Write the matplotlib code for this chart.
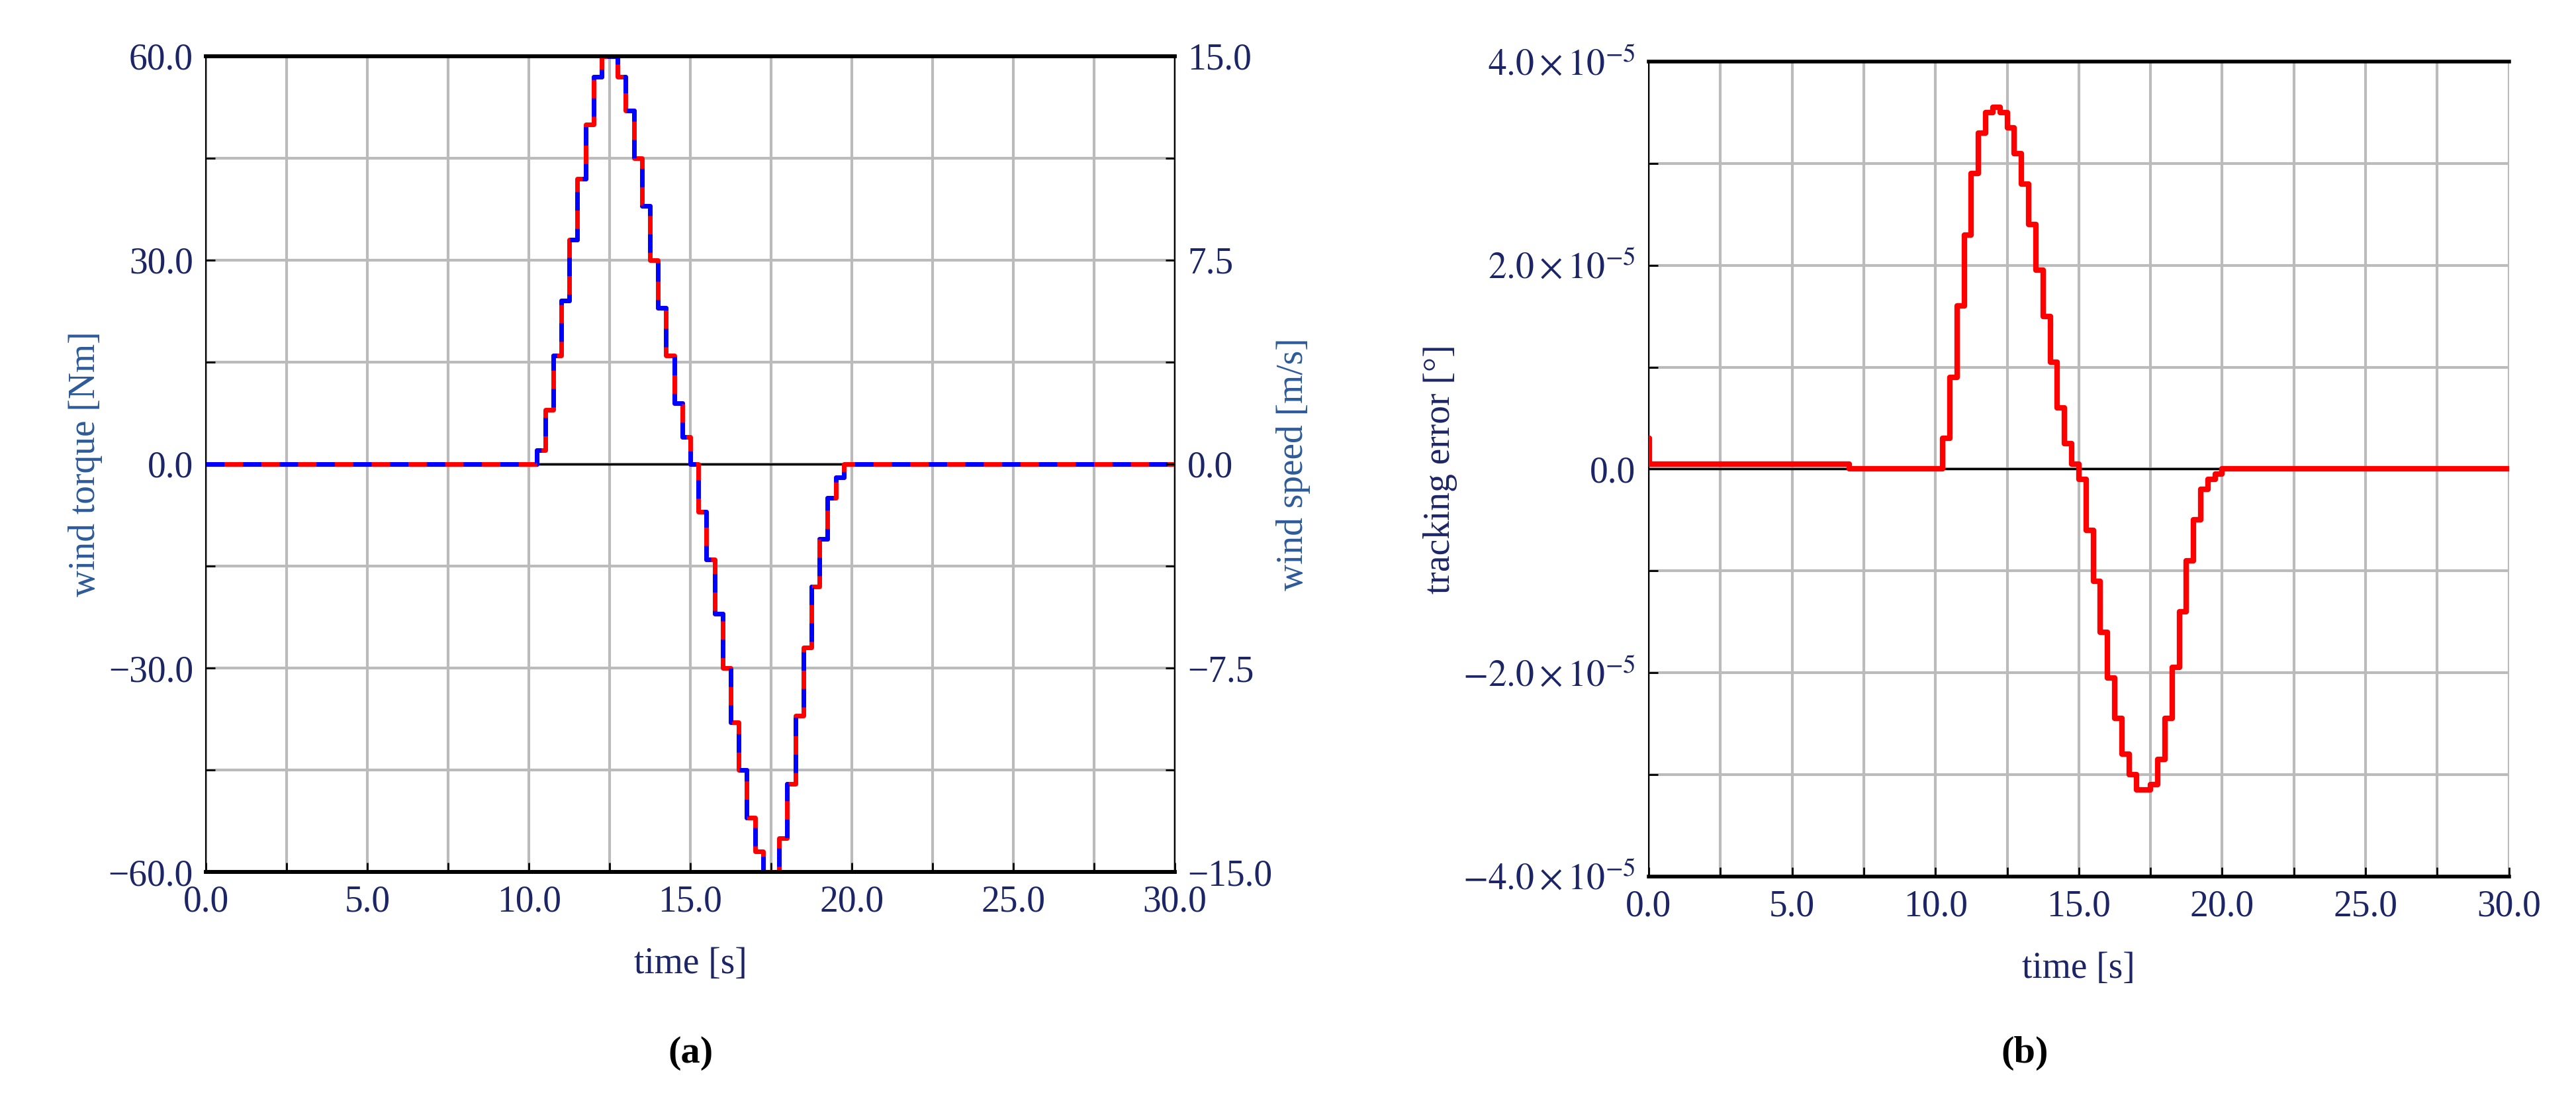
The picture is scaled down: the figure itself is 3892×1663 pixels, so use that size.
import numpy as np
import matplotlib
matplotlib.use("Agg")
import matplotlib.pyplot as plt

plt.rcParams['font.family'] = ['Liberation Serif', 'DejaVu Serif']
plt.rcParams['mathtext.fontset'] = 'stix'

# ---------------- datos ----------------
# tiempo de la zona activa (paso 0.25 s)
t_pulse = [10.0, 10.25, 10.5, 10.75, 11.0, 11.25, 11.5, 11.75, 12.0, 12.25, 12.5,
           12.75, 13.0, 13.25, 13.5, 13.75, 14.0, 14.25, 14.5, 14.75, 15.0,
           15.25, 15.5, 15.75, 16.0, 16.25, 16.5, 16.75, 17.0, 17.25, 17.5,
           17.75, 18.0, 18.25, 18.5, 18.75, 19.0, 19.25, 19.5, 19.75, 20.0]
torque_pulse = [0, 2, 8, 16, 24, 33, 42, 50, 57, 60, 60,
                57, 52, 45, 38, 30, 23, 16, 9, 4, 0,
                -7, -14, -22, -30, -38, -45, -52, -57, -60, -60,
                -55, -47, -37, -27, -18, -11, -5, -2, 0, 0]
err_pulse = [0.0, 0.3, 0.9, 1.6, 2.3, 2.9, 3.3, 3.5, 3.55, 3.5, 3.35,
             3.1, 2.8, 2.4, 1.95, 1.5, 1.05, 0.6, 0.25, 0.05, -0.1,
             -0.6, -1.1, -1.6, -2.05, -2.45, -2.8, -3.0, -3.15, -3.15, -3.1,
             -2.85, -2.45, -1.95, -1.4, -0.9, -0.5, -0.2, -0.1, -0.05, 0.0]
err_offset = 0.05   # pequeno offset antes de 7 s (x1e-5)
err_spike = 0.3     # pico inicial en t=0 (x1e-5)

# ---------------- series completas ----------------
t_full = [0.0] + t_pulse + [30.0]
torque = [0] + torque_pulse + [0]
t_err = [0.0, 0.03, 7.0] + t_pulse + [20.5, 30.0]
err = [err_spike, err_offset, 0.0] + err_pulse + [0.0, 0.0]
err = [e * 1e-5 for e in err]

navy = '#1c2566'
fmt = matplotlib.ticker.FuncFormatter(lambda v, p: ('%.1f' % v).replace('-', '\u2212'))
fig = plt.figure(figsize=(38.92, 16.63), dpi=100)

# ---------------- (a) ----------------
ax = fig.add_axes([0.080, 0.208, 0.376, 0.741])
ax.plot(t_full, torque, color='red', lw=5, drawstyle='steps-post', zorder=3)
ax.plot(t_full, torque, color='blue', lw=5, drawstyle='steps-post',
        dashes=(4, 4), zorder=4)
ax.axhline(0, color='black', lw=2.5, zorder=2)
ax.set_xlim(0, 30)
ax.set_ylim(-60, 60)
ax.set_xticks(np.arange(0, 30.1, 5))
ax.set_xticks(np.arange(0, 30.1, 2.5), minor=True)
ax.set_yticks(np.arange(-60, 61, 30))
ax.set_yticks(np.arange(-60, 61, 15), minor=True)
ax.xaxis.set_major_formatter(fmt)
ax.yaxis.set_major_formatter(fmt)
ax.grid(True, which='both', color='#bbbbbb', lw=3)
ax.set_xlabel('time [s]', fontsize=40, color=navy, labelpad=30)
ax.set_ylabel('wind torque [Nm]', fontsize=40, color='#2d5a9a', labelpad=6)
ax2 = ax.twinx()
ax2.set_ylim(-15, 15)
ax2.set_yticks([-15, -7.5, 0, 7.5, 15])
ax2.set_yticks(np.arange(-15, 15.1, 3.75), minor=True)
ax2.yaxis.set_major_formatter(fmt)
ax2.set_ylabel('wind speed [m/s]', fontsize=40, color='#2d5a9a', labelpad=4)

# ---------------- (b) ----------------
bx = fig.add_axes([0.640, 0.204, 0.334, 0.740])
bx.plot(t_err, err, color='red', lw=6, drawstyle='steps-post', zorder=3)
bx.axhline(0, color='black', lw=2.5, zorder=2)
bx.set_xlim(0, 30)
bx.set_ylim(-4e-5, 4e-5)
bx.set_xticks(np.arange(0, 30.1, 5))
bx.set_xticks(np.arange(0, 30.1, 2.5), minor=True)
bx.set_yticks([-4e-5, -2e-5, 0, 2e-5, 4e-5])
bx.set_yticks(np.arange(-4e-5, 4.01e-5, 1e-5), minor=True)
bx.set_yticklabels([r'$-4.0\times10^{-5}$', r'$-2.0\times10^{-5}$', '0.0',
                    r'$2.0\times10^{-5}$', r'$4.0\times10^{-5}$'])
bx.xaxis.set_major_formatter(fmt)
bx.grid(True, which='both', color='#bbbbbb', lw=3)
bx.set_xlabel('time [s]', fontsize=40, color=navy, labelpad=30)
bx.set_ylabel('tracking error [°]', fontsize=40, color=navy, labelpad=6)

for a in (ax, ax2, bx):
    a.tick_params(which='both', direction='in', labelsize=40, labelcolor=navy,
                  length=10, width=2, pad=14)
    for s in ('top', 'bottom'):
        a.spines[s].set_linewidth(4)
    for s in ('left', 'right'):
        a.spines[s].set_linewidth(1.5)
bx.spines['right'].set_visible(False)
bx.tick_params(which='both', right=False)
ax.set_axisbelow(True)

fig.text(0.268, 0.035, '(a)', fontsize=42, ha='center', fontweight='bold')
fig.text(0.786, 0.035, '(b)', fontsize=42, ha='center', fontweight='bold')

fig.savefig('out.png', dpi=100)
